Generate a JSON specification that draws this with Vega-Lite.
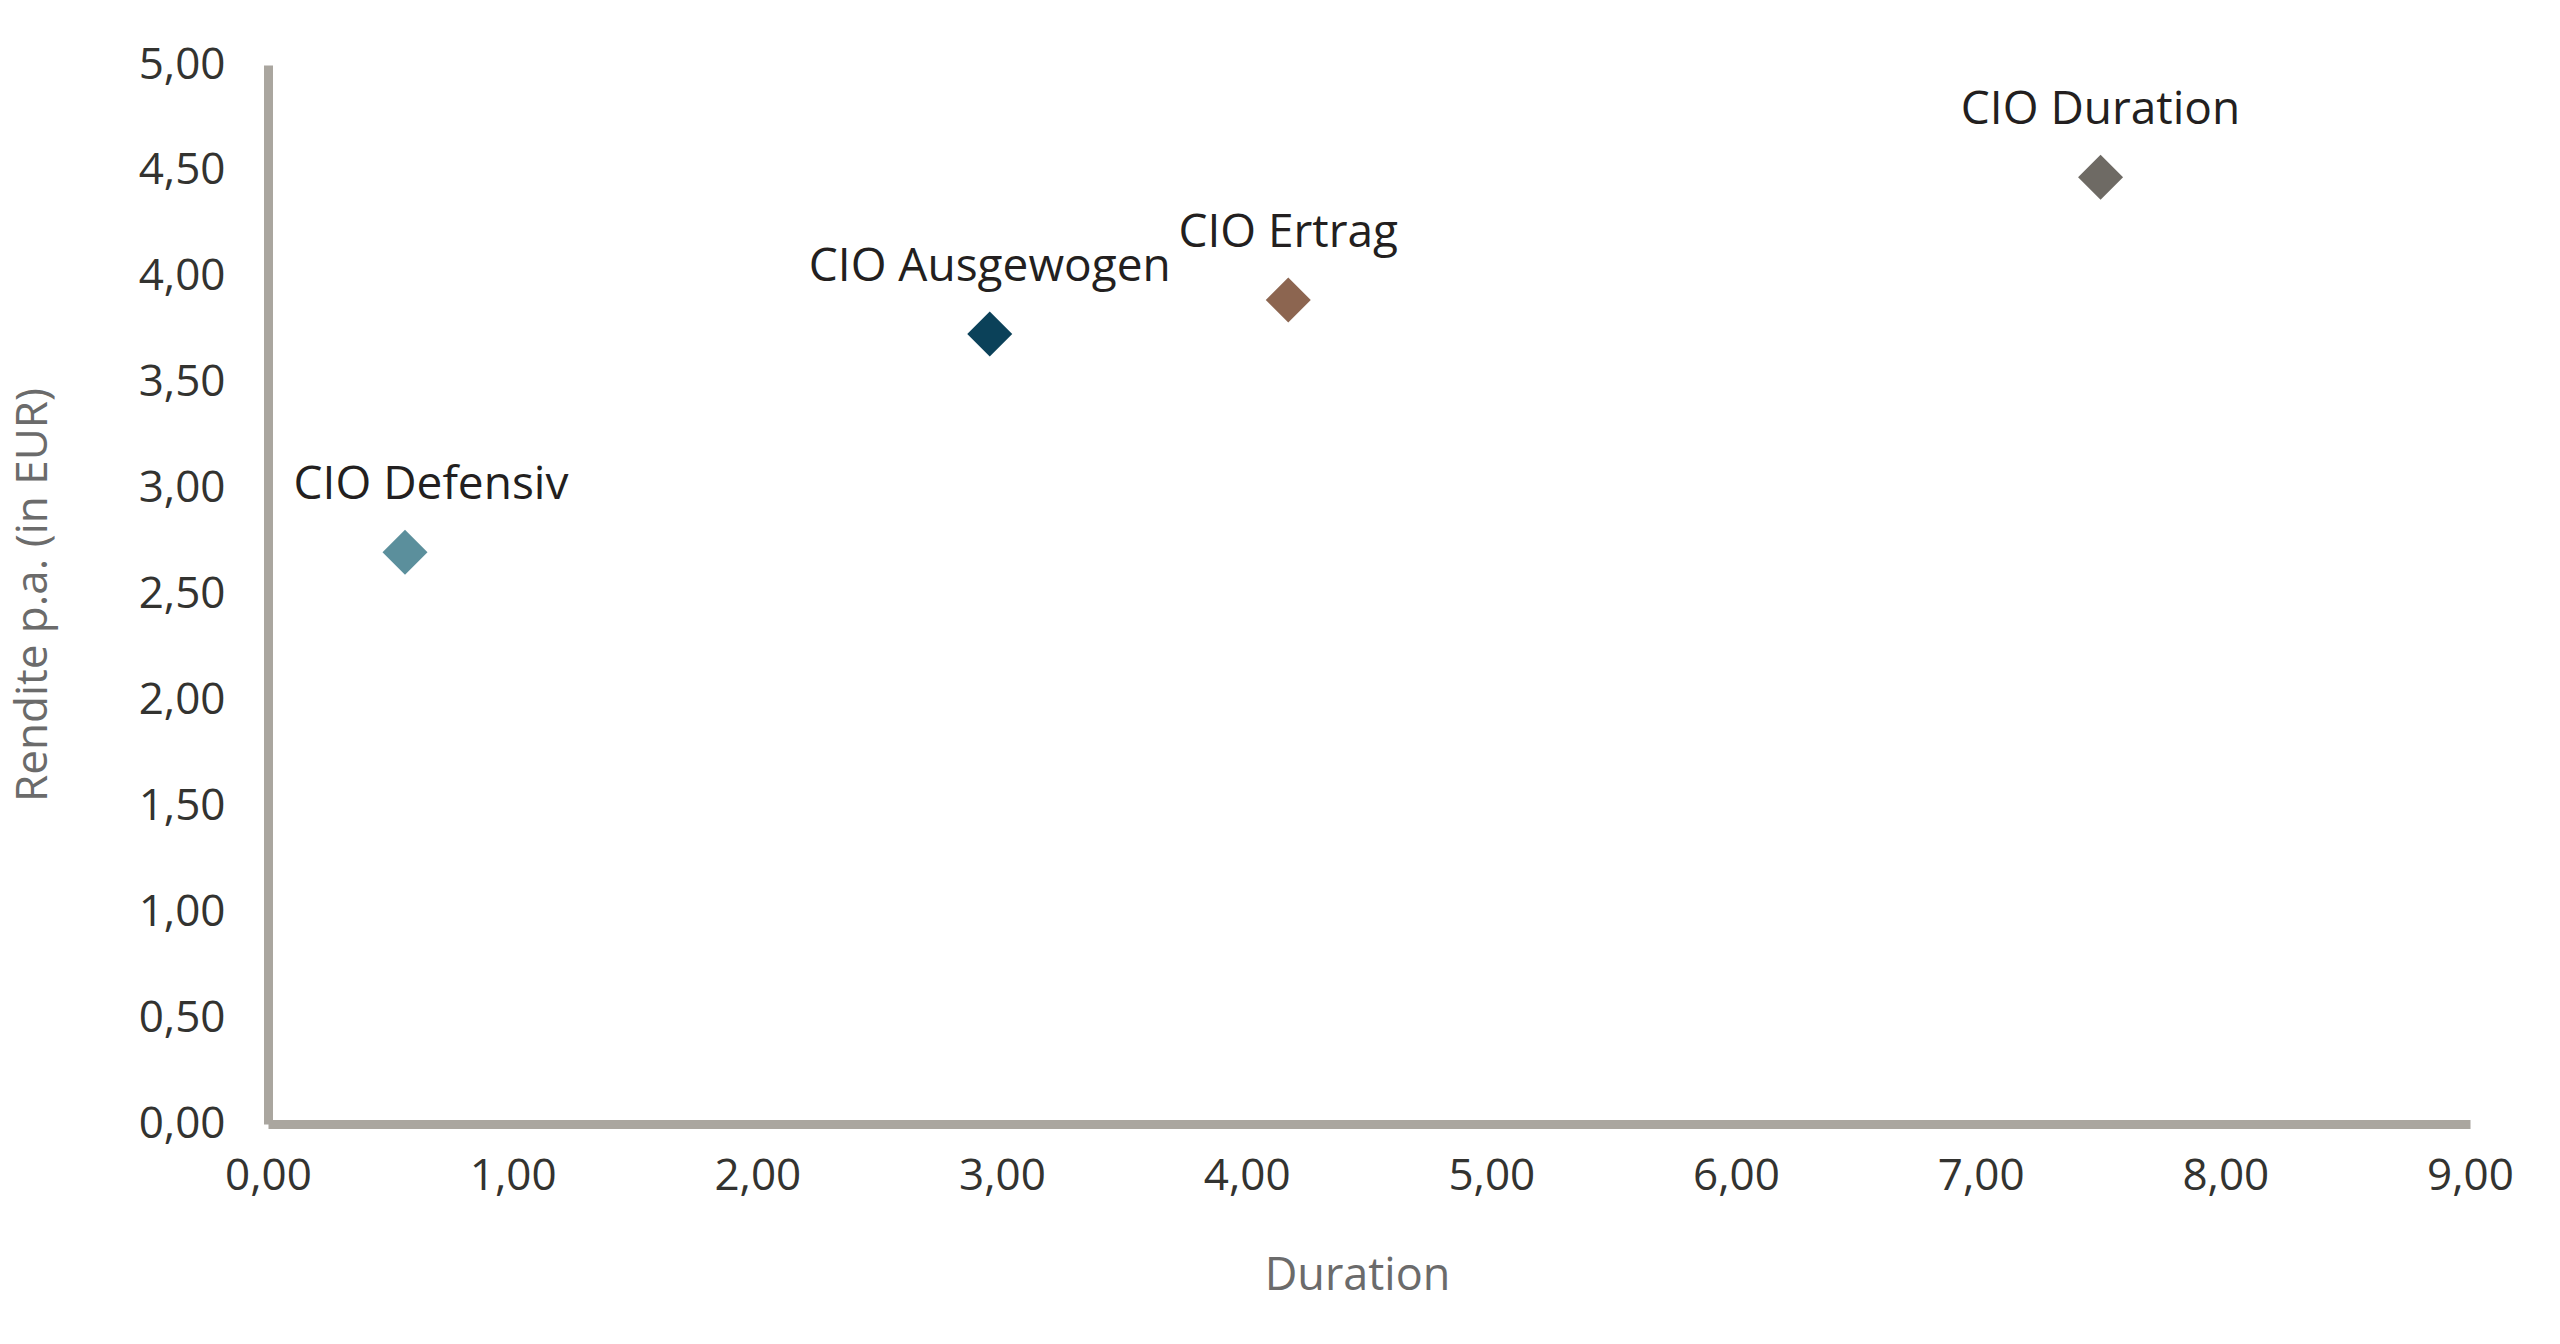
{
  "$schema": "https://vega.github.io/schema/vega-lite/v6.json",
  "autosize": "none",
  "width": 2202,
  "height": 1059,
  "padding": {"left": 268, "top": 65, "right": 90, "bottom": 220},
  "background": "white",
  "data": {
    "values": [
      {"name": "CIO Defensiv", "duration": 0.56, "rendite": 2.70},
      {"name": "CIO Ausgewogen", "duration": 2.95, "rendite": 3.73},
      {"name": "CIO Ertrag", "duration": 4.17, "rendite": 3.89},
      {"name": "CIO Duration", "duration": 7.49, "rendite": 4.47}
    ]
  },
  "encoding": {
    "x": {
      "field": "duration", "type": "quantitative",
      "scale": {"domain": [0, 9], "nice": false, "zero": true},
      "axis": {
        "title": "Duration",
        "values": [0, 1, 2, 3, 4, 5, 6, 7, 8, 9],
        "labelExpr": "replace(format(datum.value, '.2f'), '.', ',')",
        "grid": false, "ticks": false,
        "domainColor": "#aaa69f", "domainWidth": 9,
        "labelFont": "Open Sans", "labelFontSize": 44, "labelFontWeight": 500, "labelColor": "#333330",
        "labelPadding": 30, "labelFlush": false,
        "titleFont": "Open Sans", "titleFontSize": 45, "titleFontWeight": "normal", "titleColor": "#6b6b6b",
        "titleX": 1089, "titleAlign": "center",
        "titleY": 151, "titleBaseline": "middle"
      }
    },
    "y": {
      "field": "rendite", "type": "quantitative",
      "scale": {"domain": [0, 5], "nice": false},
      "axis": {
        "title": "Rendite p.a. (in EUR)",
        "values": [0, 0.5, 1, 1.5, 2, 2.5, 3, 3.5, 4, 4.5, 5],
        "labelExpr": "replace(format(datum.value, '.2f'), '.', ',')",
        "grid": false, "ticks": false,
        "domainColor": "#aaa69f", "domainWidth": 9,
        "labelFont": "Open Sans", "labelFontSize": 44, "labelFontWeight": 500, "labelColor": "#333330",
        "labelPadding": 43, "labelFlush": false,
        "titleFont": "Open Sans", "titleFontSize": 44, "titleFontWeight": "normal", "titleColor": "#6b6b6b",
        "titleX": -235, "titleBaseline": "middle", "titleAngle": -90
      }
    }
  },
  "layer": [
    {
      "mark": {"type": "point", "shape": "diamond", "filled": true, "size": 2025, "opacity": 1},
      "encoding": {
        "color": {
          "field": "name", "type": "nominal",
          "scale": {
            "domain": ["CIO Defensiv", "CIO Ausgewogen", "CIO Ertrag", "CIO Duration"],
            "range": ["#5b8f9c", "#0b4159", "#8c6550", "#6e6a64"]
          },
          "legend": null
        }
      }
    },
    {
      "transform": [{"filter": "datum.name !== 'CIO Defensiv'"}],
      "mark": {"type": "text", "font": "Open Sans", "fontSize": 46, "fontWeight": 500, "color": "#231f20", "align": "center", "baseline": "middle", "dy": -67},
      "encoding": {"text": {"field": "name"}}
    },
    {
      "transform": [{"filter": "datum.name === 'CIO Defensiv'"}],
      "mark": {"type": "text", "font": "Open Sans", "fontSize": 46, "fontWeight": 500, "color": "#231f20", "align": "center", "baseline": "middle", "dy": -67, "dx": 26},
      "encoding": {"text": {"field": "name"}}
    }
  ],
  "config": {"view": {"stroke": null}}
}
